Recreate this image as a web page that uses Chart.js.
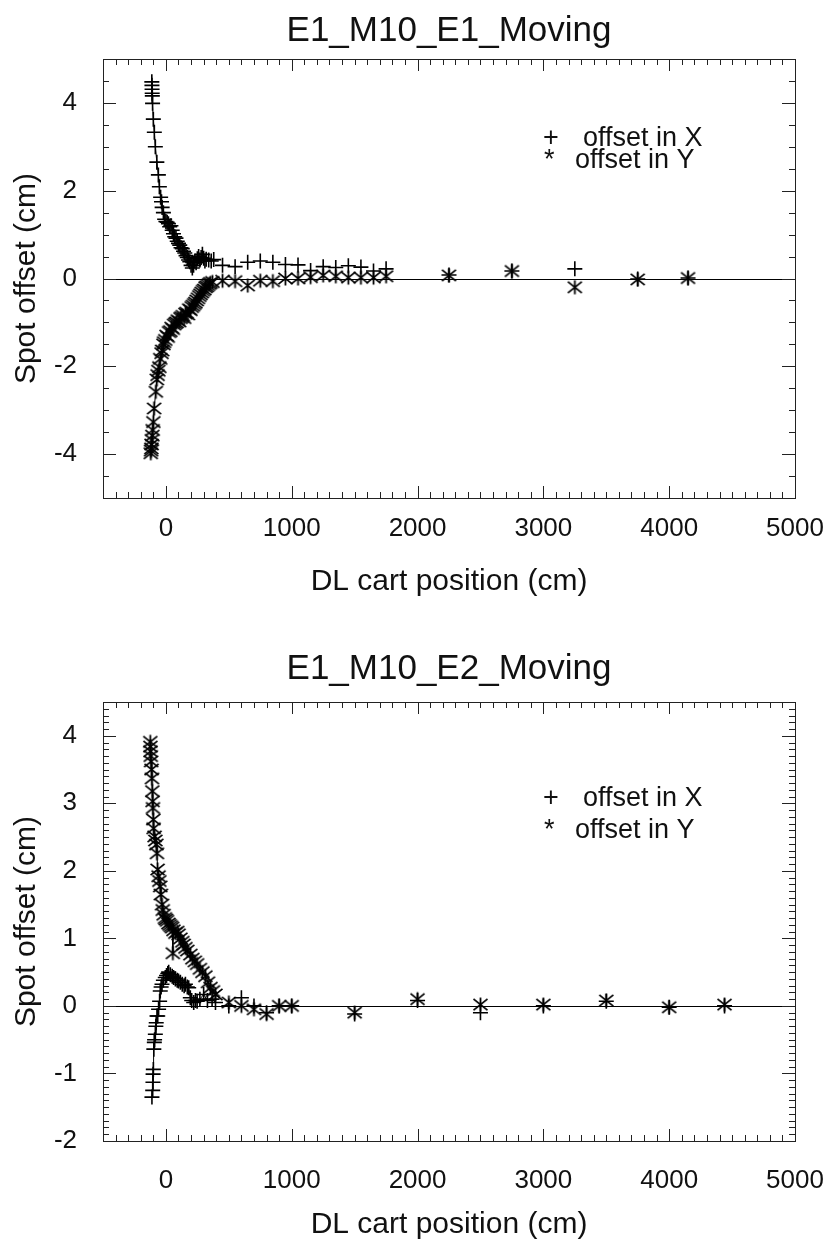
<!DOCTYPE html>
<html lang="en">
<head>
<meta charset="UTF-8">
<title>Spot offset vs DL cart position</title>
<script src="https://cdn.jsdelivr.net/npm/chart.js@4.4.0/dist/chart.umd.min.js"></script>
<style>
  body { margin: 0; background: #fff; }
  .panel { position: absolute; left: 0; width: 825px; }
  #p1 { top: 0; height: 620px; }
  #p2 { top: 620px; height: 623px; }
</style>
</head>
<body>
<div class="panel" id="p1"><canvas id="chart1" width="825" height="620"></canvas></div>
<div class="panel" id="p2"><canvas id="chart2" width="825" height="623"></canvas></div>
<script>
// ---- data ----
// E1_M10_E1_Moving
const e1xPos = [-112,-111,-110,-109,-108,-106,-100,-92,-84,-72,-60,-52,-42,-35,-30,-20,-10,0,10,20,30,40,50,60,70,80,90,100,110,120,130,140,150,160,170,180,190,200,210,220,230,240,250,260,270,280,290,300,310,320,340,360,380,450,550,650,750,850,950,1050,1150,1250,1350,1450,1550,1650,1750,2250,2750,3250,3750,4150];
const e1xOff = [4.48,4.40,4.31,4.22,4.16,3.99,3.63,3.33,3.00,2.65,2.36,2.09,1.85,1.75,1.62,1.50,1.35,1.30,1.28,1.25,1.18,1.20,1.10,1.02,0.95,0.92,0.85,0.80,0.76,0.70,0.68,0.62,0.58,0.52,0.48,0.42,0.38,0.30,0.24,0.30,0.40,0.36,0.45,0.50,0.42,0.48,0.55,0.46,0.40,0.44,0.42,0.40,0.43,0.30,0.27,0.37,0.40,0.37,0.32,0.31,0.18,0.27,0.25,0.29,0.26,0.17,0.22,0.08,0.17,0.22,-0.01,0.01];
const e1yPos = [-120,-118,-116,-114,-112,-108,-105,-100,-94,-80,-72,-66,-60,-52,-45,-35,-30,-20,-15,-5,5,15,25,35,45,55,65,75,85,95,105,115,125,135,145,155,165,175,185,195,205,215,225,235,245,255,265,275,285,295,305,315,325,335,345,355,370,450,550,650,750,850,950,1050,1150,1250,1350,1450,1550,1650,1750,2250,2750,3250,3750,4150];
const e1yOff = [-3.98,-3.92,-3.87,-3.78,-3.68,-3.58,-3.45,-3.27,-2.96,-2.58,-2.30,-2.20,-2.10,-2.02,-1.83,-1.70,-1.64,-1.50,-1.45,-1.40,-1.30,-1.33,-1.22,-1.20,-1.12,-1.15,-1.05,-1.02,-1.00,-0.95,-0.98,-0.90,-0.88,-0.85,-0.90,-0.80,-0.78,-0.82,-0.70,-0.72,-0.65,-0.62,-0.58,-0.55,-0.50,-0.45,-0.40,-0.36,-0.32,-0.28,-0.25,-0.20,-0.18,-0.15,-0.12,-0.10,-0.08,-0.05,-0.06,-0.16,-0.05,-0.06,0.00,0.00,0.03,0.07,0.05,0.02,0.02,0.02,0.05,0.07,0.17,-0.20,-0.02,0.01];

// E1_M10_E2_Moving
const e2xPos = [-111,-105,-103,-102,-100,-96,-92,-90,-84,-80,-77,-71,-65,-58,-50,-45,-38,-31,-20,-5,5,15,22,35,50,61,75,90,100,115,130,145,155,170,181,194,205,221,235,248,270,300,330,367,394,500,600,700,800,900,1000,1500,2000,2500,3000,3500,4000,4440];
const e2xOff = [-1.35,-1.25,-1.13,-1.01,-0.94,-0.64,-0.54,-0.50,-0.42,-0.30,-0.25,-0.15,-0.15,-0.05,0.07,0.22,0.28,0.32,0.38,0.42,0.45,0.48,0.50,0.46,0.44,0.42,0.40,0.38,0.37,0.35,0.32,0.30,0.32,0.28,0.27,0.12,0.08,0.05,0.08,0.07,0.10,0.17,0.08,0.10,0.05,0.00,0.12,0.00,-0.10,0.00,0.00,-0.12,0.08,-0.10,0.00,0.07,-0.02,0.00];
const e2yPos = [-124,-123,-122,-120,-118,-114,-111,-108,-106,-103,-100,-98,-90,-84,-76,-71,-66,-58,-52,-45,-40,-31,-25,-18,-8,0,9,20,30,40,49,55,60,75,90,101,115,130,141,155,170,194,210,230,248,270,290,314,335,354,374,394,500,600,700,800,900,1000,1500,2000,2500,3000,3500,4000,4440];
const e2yOff = [3.91,3.84,3.77,3.70,3.62,3.50,3.37,3.18,3.03,2.93,2.76,2.63,2.51,2.45,2.39,2.26,2.02,1.92,1.85,1.77,1.65,1.50,1.42,1.35,1.30,1.28,1.26,1.22,1.20,1.18,1.16,0.78,1.12,1.08,1.10,1.06,1.00,0.95,0.91,0.86,0.82,0.76,0.70,0.66,0.62,0.55,0.50,0.44,0.35,0.27,0.22,0.17,0.05,0.00,-0.05,-0.12,0.00,0.00,-0.10,0.10,0.02,0.02,0.08,-0.02,0.02];

const xTickValues = [0, 1000, 2000, 3000, 4000, 5000];
const legendLabels = ['offset in X', 'offset in Y'];

const FONT = '"Liberation Sans", Arial, Helvetica, sans-serif';
const INK = '#111';

// IDL style asterisk (psym=2): vertical bar plus an X
function makeAsterisk(r) {
    const s = 2 * r + 3;
    const c = document.createElement('canvas');
    c.width = s; c.height = s;
    const g = c.getContext('2d');
    const m = s / 2;
    g.strokeStyle = '#000';
    g.lineWidth = 1.8;
    g.beginPath();
    g.moveTo(m, m - r); g.lineTo(m, m + r);
    g.moveTo(m - r, m - r * 0.8); g.lineTo(m + r, m + r * 0.8);
    g.moveTo(m - r, m + r * 0.8); g.lineTo(m + r, m - r * 0.8);
    g.stroke();
    return c;
}
const asterisk = makeAsterisk(7);

function pairs(xs, ys) {
    return xs.map((v, i) => ({ x: v, y: ys[i] }));
}

// only the dense part near the start is joined by a thin line
const joinDense = ctx => (ctx.p1.parsed.x > 400 ? 'rgba(0,0,0,0)' : '#000');

// box with inward ticks on all four sides + zero line
const idlFrame = {
    id: 'idlFrame',
    beforeDatasetsDraw(chart) {
        const { ctx, chartArea: a, scales: { y } } = chart;
        const y0 = Math.round(y.getPixelForValue(0)) + 0.5;
        ctx.save();
        ctx.strokeStyle = '#000';
        ctx.lineWidth = 1.2;
        ctx.beginPath();
        ctx.moveTo(a.left, y0); ctx.lineTo(a.right, y0);
        ctx.stroke();
        ctx.restore();
    },
    afterDatasetsDraw(chart, args, opts) {
        const { ctx, chartArea: a, scales: { x, y } } = chart;
        ctx.save();
        ctx.strokeStyle = '#222';
        ctx.lineWidth = 1;
        ctx.strokeRect(a.left + 0.5, a.top + 0.5, a.right - a.left, a.bottom - a.top);
        ctx.beginPath();
        const xTicks = (step, len) => {
            const n0 = Math.ceil(x.min / step), n1 = Math.floor(x.max / step);
            for (let i = n0; i <= n1; i++) {
                const px = Math.round(x.getPixelForValue(i * step)) + 0.5;
                ctx.moveTo(px, a.bottom); ctx.lineTo(px, a.bottom - len);
                ctx.moveTo(px, a.top); ctx.lineTo(px, a.top + len);
            }
        };
        const yTicks = (step, len) => {
            const n0 = Math.ceil(y.min / step - 1e-6), n1 = Math.floor(y.max / step + 1e-6);
            for (let i = n0; i <= n1; i++) {
                const py = Math.round(y.getPixelForValue(i * step)) + 0.5;
                ctx.moveTo(a.left, py); ctx.lineTo(a.left + len, py);
                ctx.moveTo(a.right, py); ctx.lineTo(a.right - len, py);
            }
        };
        xTicks(100, 6);
        xTicks(1000, 12);
        yTicks(opts.yMinor, 6);
        yTicks(opts.yMajor, 13);
        ctx.stroke();

        // legend written as text inside the box
        ctx.fillStyle = INK;
        ctx.font = '27px ' + FONT;
        ctx.textBaseline = 'alphabetic';
        const L = opts.legend;
        ctx.fillText('+', L.x, L.y1);
        ctx.fillText(legendLabels[0], L.tx1, L.y1);
        ctx.fillText('*', L.x + 1, L.y2);
        ctx.fillText(legendLabels[1], L.tx2, L.y2);
        ctx.restore();
    }
};

function buildChart(id, cfg) {
    return new Chart(document.getElementById(id), {
        type: 'scatter',
        data: {
            datasets: [
                {
                    label: legendLabels[0],
                    data: pairs(cfg.xPos, cfg.xOff),
                    pointStyle: 'cross',
                    pointRadius: 7.5,
                    pointBorderWidth: 1.6,
                    pointBorderColor: '#000',
                    showLine: true,
                    borderWidth: 1,
                    borderColor: '#000',
                    segment: { borderColor: joinDense }
                },
                {
                    label: legendLabels[1],
                    data: pairs(cfg.yPos, cfg.yOff),
                    pointStyle: asterisk,
                    pointRadius: 7,
                    showLine: true,
                    borderWidth: 1,
                    borderColor: '#000',
                    segment: { borderColor: joinDense }
                }
            ]
        },
        options: {
            responsive: false,
            animation: false,
            layout: { padding: { left: 0, right: 30, top: 0, bottom: 0 } },
            plugins: {
                legend: { display: false },
                tooltip: { enabled: false },
                title: {
                    display: true,
                    text: cfg.title,
                    fullSize: false,
                    color: INK,
                    font: { family: FONT, size: 35, weight: 'normal' },
                    padding: cfg.titlePad
                },
                idlFrame: { yMajor: cfg.yMajor, yMinor: cfg.yMinor, legend: cfg.legend }
            },
            scales: {
                x: {
                    type: 'linear',
                    min: -500,
                    max: 5000,
                    afterFit: s => { s.height = cfg.xHeight; s.paddingRight = 0; },
                    afterBuildTicks: s => { s.ticks = xTickValues.map(v => ({ value: v })); },
                    grid: { display: false },
                    border: { display: false },
                    ticks: {
                        color: INK,
                        padding: cfg.xTickPad,
                        maxRotation: 0,
                        font: { family: FONT, size: 26 },
                        callback: v => String(v)
                    },
                    title: {
                        display: true,
                        text: 'DL cart position (cm)',
                        color: INK,
                        font: { family: FONT, size: 30 },
                        padding: { top: 0, bottom: cfg.xTitlePad }
                    }
                },
                y: {
                    min: cfg.yMin,
                    max: cfg.yMax,
                    afterFit: s => { s.width = 103; },
                    afterBuildTicks: s => { s.ticks = cfg.yTicks.map(v => ({ value: v })); },
                    grid: { display: false },
                    border: { display: false },
                    ticks: {
                        color: INK,
                        padding: 18,
                        font: { family: FONT, size: 26 },
                        callback: v => String(v)
                    },
                    title: {
                        display: true,
                        text: 'Spot offset (cm)',
                        color: INK,
                        font: { family: FONT, size: 30 },
                        padding: { top: 9, bottom: 0 }
                    }
                }
            }
        },
        plugins: [idlFrame]
    });
}

buildChart('chart1', {
    title: 'E1_M10_E1_Moving',
    xPos: e1xPos, xOff: e1xOff, yPos: e1yPos, yOff: e1yOff,
    yMin: -5, yMax: 5, yMajor: 2, yMinor: 0.5,
    yTicks: [-4, -2, 0, 2, 4],
    titlePad: { top: 10, bottom: 7 },
    xHeight: 122, xTickPad: 7, xTitlePad: 20,
    legend: { x: 543, tx1: 583, tx2: 575, y1: 146, y2: 168 }
});

buildChart('chart2', {
    title: 'E1_M10_E2_Moving',
    xPos: e2xPos, xOff: e2xOff, yPos: e2yPos, yOff: e2yOff,
    yMin: -2, yMax: 4.5, yMajor: 1, yMinor: 0.1,
    yTicks: [-2, -1, 0, 1, 2, 3, 4],
    titlePad: { top: 28, bottom: 12 },
    xHeight: 102, xTickPad: 16, xTitlePad: 0,
    legend: { x: 543, tx1: 583, tx2: 575, y1: 186, y2: 218 }
});
</script>
</body>
</html>
